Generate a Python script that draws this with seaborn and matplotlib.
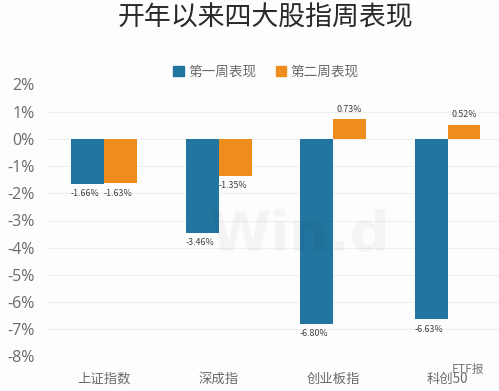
import matplotlib
matplotlib.use("Agg")
import matplotlib.pyplot as plt
import pandas as pd
import seaborn as sns

categories = ["上证指数", "深成指", "创业板指", "科创50"]
series_names = ["第一周表现", "第二周表现"]
week1 = [-1.66, -3.46, -6.80, -6.63]
week2 = [-1.63, -1.35, 0.73, 0.52]
yticks = [2, 1, 0, -1, -2, -3, -4, -5, -6, -7, -8]
title = "开年以来四大股指周表现"
colors = ["#22759f", "#ef8c1e"]

sns.set_theme(style="white")
plt.rcParams["font.family"] = ["Noto Sans CJK SC", "DejaVu Sans"]
plt.rcParams["axes.unicode_minus"] = False

W, H = 499, 391
fig = plt.figure(figsize=(W / 100, H / 100), dpi=100, facecolor="#fdfdfd")
left, right, top, bottom = 47, 499, 84.5, 356.5
ax = fig.add_axes([left / W, 1 - bottom / H, (right - left) / W, (bottom - top) / H])
ax.set_facecolor("#fdfdfd")

df = pd.DataFrame({
    "cat": categories * 2,
    "series": [series_names[0]] * 4 + [series_names[1]] * 4,
    "val": week1 + week2,
})
sns.barplot(data=df, x="cat", y="val", hue="series", palette=colors, width=0.576,
            gap=0, saturation=1, ax=ax, zorder=3, legend=False, linewidth=0)

ax.set_ylim(-8, 2)
ax.set_xlim(-0.5, 3.45)
ax.set_yticks(yticks)
ax.set_yticklabels([f"{v}%" for v in yticks], fontsize=11.5, color="#6a6a6a",
                   family=["Open Sans"])
ax.set_xticks(range(4))
ax.set_xticklabels(categories, fontsize=9.6, color="#6a6a6a")
ax.tick_params(axis="both", length=0)
ax.tick_params(axis="x", pad=11)
ax.tick_params(axis="y", pad=9)
ax.set_xlabel("")
ax.set_ylabel("")
ax.grid(axis="y", color="#efeff1", lw=0.8, zorder=0)
ax.grid(axis="x", visible=False)
sns.despine(ax=ax, left=True, bottom=True, right=True, top=True)

# Data labels
offs = 0.144
for i, (a, b) in enumerate(zip(week1, week2)):
    for x, v in ((i - offs, a), (i + offs, b)):
        if v < 0:
            ax.text(x - 0.02, v - 0.2, f"{v:.2f}%", ha="center", va="top",
                    fontsize=6.4, color="#404040", zorder=5)
        else:
            ax.text(x, v + 0.2, f"{v:.2f}%", ha="center", va="bottom",
                    fontsize=6.4, color="#404040", zorder=5)

# Title
fig.text(265 / W, 1 - 18 / H, title, ha="center", va="center", fontsize=19.4, color="#2a2a2a")

# Legend
handles = [plt.Rectangle((0, 0), 1, 1, color=c) for c in colors]
leg = fig.legend(handles, series_names, loc="center", bbox_to_anchor=(266 / W, 1 - 72 / H), ncol=2,
                 frameon=False, fontsize=9.8, handlelength=0.75, handleheight=0.75,
                 handletextpad=0.35, columnspacing=1.4, labelcolor="#6a6a6a")

# Watermarks
ax.text(300 / W, 1 - 235 / H, "Win.d", transform=fig.transFigure, ha="center", va="center",
        fontsize=40, fontweight="bold", color="#000000", alpha=0.035, zorder=4,
        family=["DejaVu Sans"])
fig.text(468 / W, 1 - 369 / H, "ETF报", ha="center", va="center", fontsize=8.5, color="#777777")

fig.savefig("out.png", dpi=100, facecolor=fig.get_facecolor())
